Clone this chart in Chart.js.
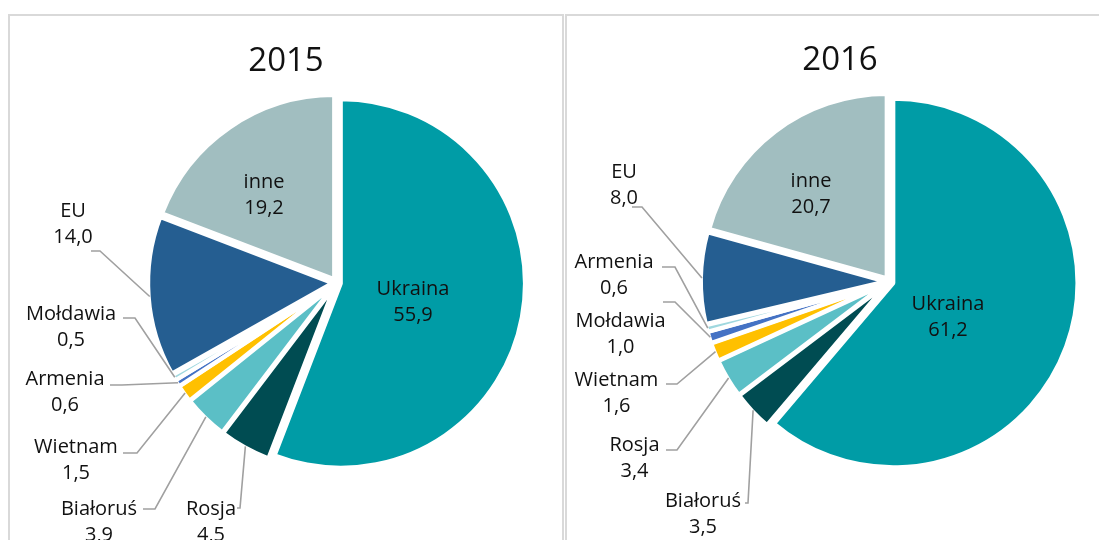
<!DOCTYPE html>
<html>
<head>
<meta charset="utf-8">
<script src="https://cdn.jsdelivr.net/npm/chart.js@4.4.1/dist/chart.umd.min.js"></script>
<style>
  body { margin: 0; background: #fff; width: 1099px; height: 540px; overflow: hidden; position: relative; }
  .panel { position: absolute; top: 14px; height: 600px; border: 2px solid #d9d9d9; box-sizing: border-box; }
  canvas { position: absolute; top: 0; }
</style>
</head>
<body>
<div class="panel" style="left:8px; width:556px;"></div>
<div class="panel" style="left:565px; width:556px;"></div>
<canvas id="c2015" width="563" height="540" style="left:0"></canvas>
<canvas id="c2016" width="536" height="540" style="left:563px"></canvas>
<script>
// kolejność wycinków zgodnie z ruchem wskazówek zegara od góry
var categories2015 = ['Ukraina', 'Rosja', 'Białoruś', 'Wietnam', 'Armenia', 'Mołdawia', 'EU', 'inne'];
var values2015 = [55.9, 4.5, 3.9, 1.5, 0.6, 0.5, 14.0, 19.2];

var categories2016 = ['Ukraina', 'Białoruś', 'Rosja', 'Wietnam', 'Mołdawia', 'Armenia', 'EU', 'inne'];
var values2016 = [61.2, 3.5, 3.4, 1.6, 1.0, 0.6, 8.0, 20.7];

var sliceColors = ['#009ca6', '#004c52', '#5bbfc6', '#ffc000', '#4472c4', '#9fd8df', '#255e91', '#a1bec0'];

// pozycje etykiet (strona): [x tekstu, linia bazowa, start linii x, linia y, kolano x]
var spots2015 = [
    [413, 295],
    [211, 515, 237, 508, 240],
    [99, 515, 143, 509, 155],
    [76, 453, 123, 453, 137],
    [65, 385, 110, 385, 122],
    [71, 320, 123, 318, 135],
    [73, 217, 91, 251, 100],
    [264, 188]
];
var spots2016 = [
    [948, 310],
    [703, 507, 745, 503, 748],
    [634.5, 451, 666, 450, 677],
    [616.5, 386, 666, 384, 677],
    [620.5, 327, 663, 302, 675],
    [614, 268, 662, 267, 675],
    [624, 178, 632, 207, 642],
    [811, 187]
];

var BORDER = 4.2;
var EXPLODE = 4.2;

function fmt(v) {
    return v.toFixed(1).replace('.', ',');
}

// rozsuniecie wycinkow
var explodePlugin = {
    id: 'explode',
    beforeDatasetDraw: function (chart, args) {
        var ctx = chart.ctx;
        args.meta.data.forEach(function (arc) {
            var mid = (arc.startAngle + arc.endAngle) / 2;
            ctx.save();
            ctx.translate(Math.cos(mid) * EXPLODE, Math.sin(mid) * EXPLODE);
            arc.draw(ctx);
            ctx.restore();
        });
        return false;
    }
};

var labelPlugin = {
    id: 'pieLabels',
    afterDraw: function (chart, args, opts) {
        var ctx = chart.ctx;
        var meta = chart.getDatasetMeta(0);
        var vals = chart.data.datasets[0].data;
        var names = chart.data.labels;
        var left = opts.left;
        ctx.save();
        ctx.fillStyle = '#111';
        ctx.textAlign = 'center';
        ctx.textBaseline = 'alphabetic';
        ctx.font = '33px "Open Sans"';
        ctx.fillText(opts.title, opts.titleX - left, opts.titleY);

        ctx.font = '20px "Open Sans"';
        ctx.strokeStyle = '#a0a0a0';
        ctx.lineWidth = 1.6;
        meta.data.forEach(function (arc, i) {
            var p = opts.spots[i];
            ctx.fillText(names[i], p[0] - left, p[1]);
            ctx.fillText(fmt(vals[i]), p[0] - left, p[1] + 25.5);
            if (p.length > 2) {
                var mid = (arc.startAngle + arc.endAngle) / 2;
                var r = arc.outerRadius - BORDER / 2 + EXPLODE + 1;
                var ex = arc.x + Math.cos(mid) * r;
                var ey = arc.y + Math.sin(mid) * r;
                ctx.beginPath();
                ctx.moveTo(p[2] - left, p[3]);
                ctx.lineTo(p[4] - left, p[3]);
                ctx.lineTo(ex, ey);
                ctx.stroke();
            }
        });
        ctx.restore();
    }
};

function makePie(id, labels, values, title, titleX, titleY, spots, left, padding) {
    var ctx = document.getElementById(id).getContext('2d');
    return new Chart(ctx, {
        type: 'pie',
        data: {
            labels: labels,
            datasets: [{
                data: values,
                backgroundColor: sliceColors,
                borderColor: '#ffffff',
                borderWidth: BORDER,
                hoverOffset: 0
            }]
        },
        options: {
            responsive: false,
            animation: false,
            events: [],
            radius: 184.3,
            layout: { padding: padding },
            plugins: {
                legend: { display: false },
                tooltip: { enabled: false },
                pieLabels: {
                    title: title, titleX: titleX, titleY: titleY,
                    spots: spots, left: left
                }
            }
        },
        plugins: [explodePlugin, labelPlugin]
    });
}

makePie('c2015', categories2015, values2015, '2015', 286, 71, spots2015, 0,
    { left: 136.6, right: 26.4, top: 82.7, bottom: 57.3 });
makePie('c2016', categories2016, values2016, '2016', 840, 70, spots2016, 563,
    { left: 126.3, right: 9.7, top: 81.6, bottom: 58.4 });
</script>
</body>
</html>
